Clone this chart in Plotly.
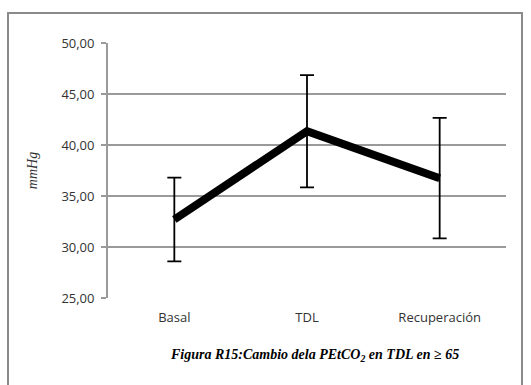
import plotly.graph_objects as go

categories = ["Basal", "TDL", "Recuperación"]
means = [32.7, 41.35, 36.75]
errors = [4.1, 5.5, 5.9]
y_ticks = [25, 30, 35, 40, 45, 50]
y_tick_labels = ["25,00", "30,00", "35,00", "40,00", "45,00", "50,00"]

W, H = 531, 385
L, R, T, B = 108, 25, 43, 87
pw, ph = W - L - R, H - T - B

def px_x(x):
    return (x - L) / pw

def px_y(y):
    return (H - B - y) / ph

fig = go.Figure()
fig.add_trace(go.Scatter(
    x=categories, y=means, mode="lines",
    line=dict(color="black", width=8),
    error_y=dict(type="data", array=errors, visible=True, color="black", thickness=1.8, width=7),
    showlegend=False, hoverinfo="skip",
))

fig.update_layout(
    width=W, height=H,
    margin=dict(l=L, r=R, t=T, b=B, pad=0),
    paper_bgcolor="white", plot_bgcolor="white",
    font=dict(family="Open Sans, sans-serif", size=13, color="#333333"),
    xaxis=dict(
        type="category", range=[-0.5, 2.5], showgrid=False, zeroline=False,
        showline=False, ticks="", tickfont=dict(size=13, color="#333333"),
        ticklabelstandoff=10,
    ),
    yaxis=dict(
        range=[25, 50], tickvals=y_ticks, ticktext=y_tick_labels,
        showgrid=True, gridcolor="#9a9a9a", gridwidth=1.8,
        showline=True, linecolor="#9a9a9a", linewidth=1.8,
        ticks="outside", ticklen=5, tickcolor="#9a9a9a", tickwidth=1.8,
        zeroline=False, ticklabelstandoff=4,
        tickfont=dict(size=13, color="#333333"),
        title=dict(text="<i>mmHg</i>", font=dict(family="Liberation Serif, serif", size=14, color="#333333"), standoff=20),
    ),
    shapes=[
        dict(type="rect", xref="paper", yref="paper",
             x0=px_x(8), x1=px_x(522), y0=px_y(400), y1=px_y(13),
             line=dict(color="#8a8a8a", width=2), fillcolor="rgba(0,0,0,0)", layer="below"),
    ],
    annotations=[
        dict(text="<b><i>Figura R15:Cambio dela PEtCO<sub>2</sub> en TDL en ≥ 65</i></b>",
             xref="paper", yref="paper", x=px_x(314), y=px_y(355),
             xanchor="center", yanchor="middle", showarrow=False,
             font=dict(family="Liberation Serif, serif", size=14, color="#000000")),
    ],
)

fig.write_html("out.html")
